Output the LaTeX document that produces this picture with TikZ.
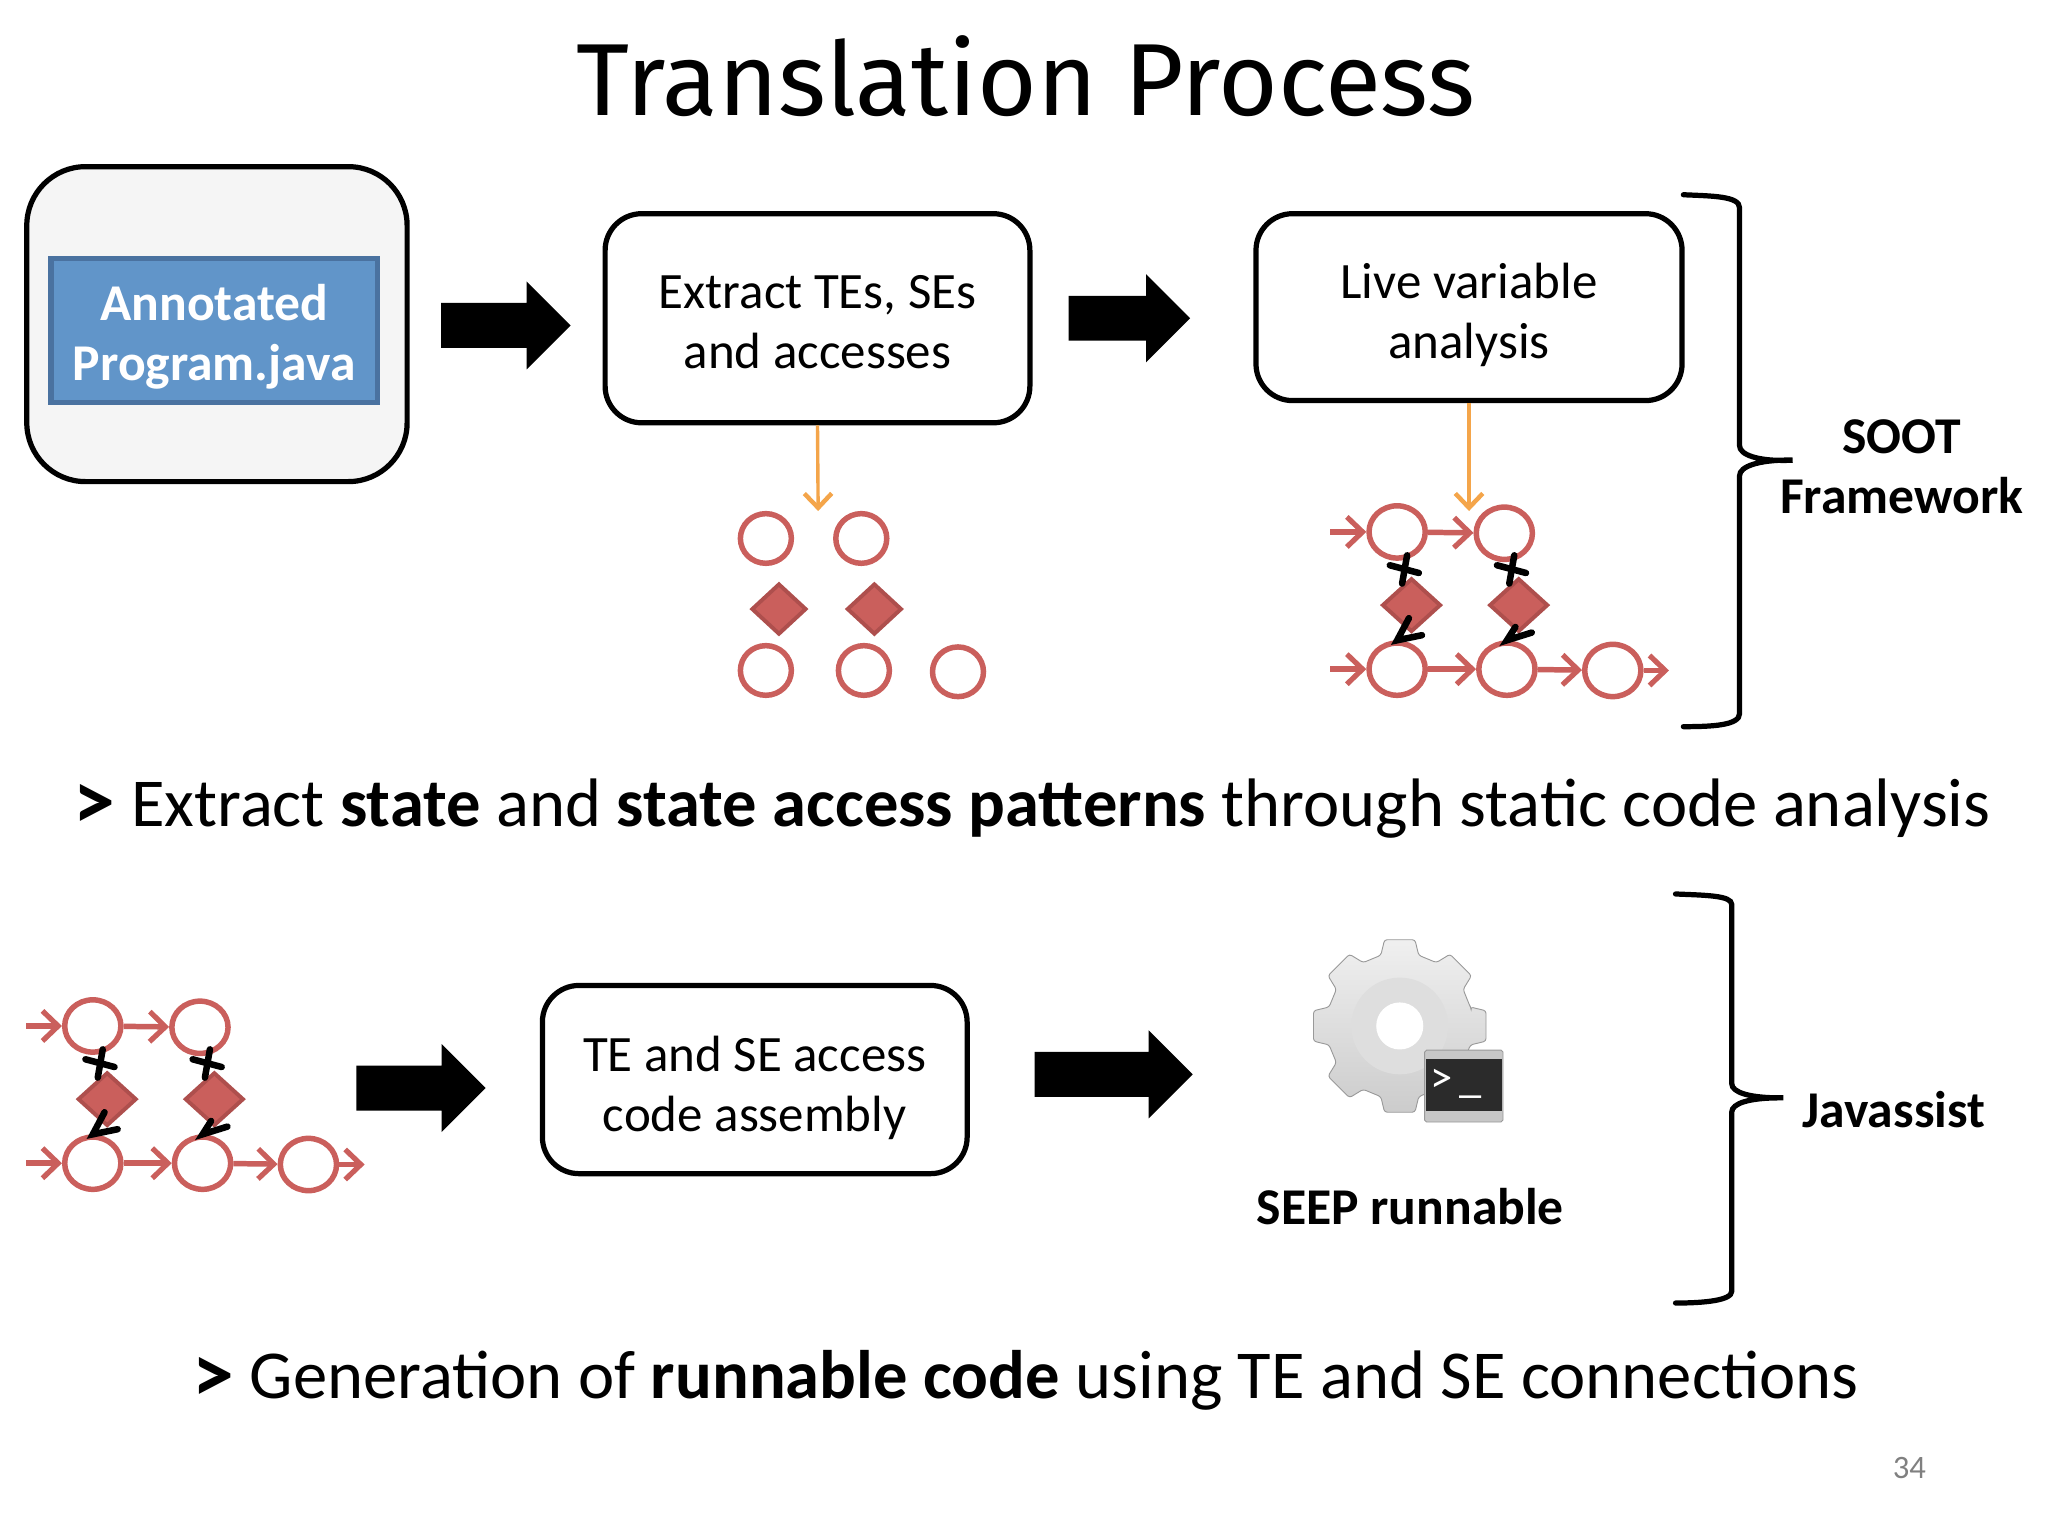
\documentclass[tikz,border=0pt]{standalone}
\usepackage{fontspec}
\setmainfont{Carlito}
\newfontfamily\titlefont{Fira Sans}
\usetikzlibrary{shapes.geometric,shapes.arrows,arrows.meta}
\definecolor{salmon}{HTML}{CA5F5C}
\definecolor{salmondk}{HTML}{AE4F4D}
\definecolor{orangeln}{HTML}{F4A54A}
\definecolor{bluefill}{HTML}{6195C9}
\definecolor{blueedge}{HTML}{4A72A0}
\newcommand{\dropline}{\rule{0pt}{37pt}}
\newcommand{\capmark}{\raisebox{-3pt}{\fontsize{64}{50}\selectfont\textbf{>}}}
\tikzset{
    boxnode/.style={draw,line width=4pt,rounded corners=28pt,align=center,inner sep=0pt,font=\fontsize{39}{46}\selectfont},
    blockarrow/.style={single arrow,fill=black,inner xsep=0pt,inner ysep=17pt,single arrow head extend=16.5pt},
    blabel/.style={align=center,font=\fontsize{39.5}{46}\selectfont\bfseries},
    oplabel/.style={anchor=base west,font=\fontsize{52.5}{54}\selectfont},
    ring/.style={ellipse,draw=salmon,line width=4.2pt,fill=white,minimum width=43pt,minimum height=40pt,inner sep=0pt},
    gem/.style={diamond,draw=salmondk,line width=3pt,fill=salmon,minimum width=45pt,minimum height=41pt,inner sep=0pt},
    flow/.style={draw=salmon,line width=4.2pt,-{Straight Barb[length=12pt,width=23pt,line width=4pt]}},
    blk/.style={black,line width=5pt,line cap=round},
    feed/.style={draw=orangeln,line width=2.6pt,-{Straight Barb[length=11pt,width=21pt,line width=3.4pt]}},
    brace/.style={draw=black,line width=4pt,line cap=round,rounded corners=6pt},
}
\begin{document}
\begin{tikzpicture}[x=1pt,y=-1pt]
\useasboundingbox (0,0) rectangle (1567,1175);
\node (title) at (785,58) {\titlefont\fontsize{78.4}{90}\selectfont Translation Process};

% top row
\node (src) [boxnode,rounded corners=45pt,fill=black!4,minimum width=291pt,minimum height=241pt] at (166,248) {};
\node (java) [draw=blueedge,line width=4pt,fill=bluefill,text=white,minimum width=250pt,minimum height=110pt,inner sep=0pt,align=center,font=\fontsize{39.5}{46}\selectfont\bfseries] at (164,253) {\dropline Annotated\\Program.java};
\node (extract) [boxnode,minimum width=325pt,minimum height=160pt] at (625.5,243.5) {\rule{0pt}{31pt}Extract TEs, SEs\\and accesses};
\node (live) [boxnode,minimum width=326pt,minimum height=143pt] at (1124,235) {\rule{0pt}{39pt}Live variable\\analysis};
\node (ar1) [blockarrow,minimum height=99pt] at (378.5,249) {};
\node (ar2) [blockarrow,minimum height=93pt] at (855.5,243.5) {};

% bare nodes under the extract box
\foreach \n/\x/\y in {a1/586/412, a2/659/412, a3/586/513, a4/661/513, a5/733/514}{
    \node (\n) [ring,minimum width=39pt,minimum height=38pt] at (\x,\y) {};
}
\foreach \n/\x in {b1/596, b2/669}{
    \node (\n) [gem,minimum width=42pt,minimum height=39pt] at (\x,466) {};
}
\coordinate (t1) at (626,391);
\coordinate (t2) at (1124,391);
\draw [feed] (extract.south) -- (t1);
\draw [feed] (live.south) -- (t2);

% the same graph twice
\foreach \g/\gx/\gy in {r/1069/407, l/71/785}{
    \begin{scope}[shift={(\gx,\gy)}]
        \foreach \i/\x/\y in {1/0/0, 2/82/1, 3/0/105, 4/84/105, 5/165/106}{
            \node (n\g\i) [ring] at (\x,\y) {};
        }
        \foreach \i/\x in {1/11, 2/93}{
            \node (d\g\i) [gem] at (\x,56) {};
        }
        \coordinate (e\g1) at (-51,0);
        \coordinate (e\g3) at (-51,105);
        \coordinate (e\g5) at (208,106);
        \draw [flow] (e\g1) -- (n\g1);
        \draw [flow] (e\g3) -- (n\g3);
        \draw [flow] (n\g1) -- (n\g2);
        \draw [flow] (n\g3) -- (n\g4);
        \draw [flow] (n\g4) -- (n\g5);
        \draw [flow] (n\g5) -- (e\g5);
        \foreach \i/\k/\x/\qx/\qy/\bx/\by in {1/3/0/9/66/19/79, 2/4/82/90.5/72.7/103/77}{
            \coordinate (u\g\i) at (\x+7.6,17.9);
            \coordinate (v\g\i) at (\x+3.8,39.5);
            \coordinate (pa\g\i) at (\x-5.6,25.5);
            \coordinate (pb\g\i) at (\x+16.6,31.4);
            \coordinate (q\g\i) at (\qx,\qy);
            \coordinate (h\g\i) at (\bx,\by);
            \draw [blk] (u\g\i) -- (v\g\i);
            \draw [blk] (pa\g\i) -- (pb\g\i);
            \draw [blk] (q\g\i) -- (n\g\k.north) -- (h\g\i);
        }
    \end{scope}
}

% gear icon
\begin{scope}[shift={(1071,785)}]
    \shade [top color=black!6,bottom color=black!20,draw=black!40,line width=.7pt,rounded corners=2pt]
        (-14:56) \foreach \a in {0,45,...,315}{
            -- (\a-15:56) -- (\a-10:67) -- (\a+10:67) -- (\a+15:56)
        } -- cycle;
    \node (hub) [circle,fill=black!13,minimum size=74pt,inner sep=0pt] at (0,0) {};
    \node (hole) [circle,fill=white,minimum size=36pt,inner sep=0pt] at (0,0) {};
\end{scope}
\node (term) [fill=black!22,draw=black!40,line width=.7pt,rounded corners=1.5pt,minimum width=60pt,minimum height=55pt,inner sep=0pt] at (1120,831) {};
\node (screen) [fill=black!83,minimum width=58pt,minimum height=40pt,inner sep=0pt] at (1120,830) {};
\node (prompt) [text=white,font=\fontsize{34}{34}\selectfont] at (1114,829) {>\,\_};

\node (seep) [blabel] at (1079,923) {SEEP runnable};

% braces
\coordinate (sootb) at (1375,352);
\coordinate (javb) at (1368,840);
\draw [brace] (1288,149) .. controls (1310,150) and (1331,150) .. (1331,165) -- (1331,335) .. controls (1331,348) and (1345,353) .. (sootb) .. controls (1345,352) and (1331,357) .. (1331,370) -- (1331,540) .. controls (1331,555) and (1310,556) .. (1288,556);
\draw [brace] (1282,684) .. controls (1304,685) and (1325,685) .. (1325,698) -- (1325,823) .. controls (1325,836) and (1339,840) .. (javb) .. controls (1339,840) and (1325,844) .. (1325,857) -- (1325,982) .. controls (1325,995) and (1304,997) .. (1282,997);
\node (soot) [blabel] at (1455,357) {SOOT\\Framework};
\node (jav) [blabel] at (1449,849) {Javassist};

% bottom row
\node (ar3) [blockarrow,minimum height=99pt] at (313.5,832.5) {};
\node (ar4) [blockarrow,minimum height=121pt] at (843.5,822) {};
\node (assem) [boxnode,minimum width=325pt,minimum height=144pt] at (577.5,826) {\rule{0pt}{40pt}TE and SE access\\code assembly};

% captions
\node (cap1) [oplabel] at (53,632) {\capmark{} Extract \textbf{state} and \textbf{state access patterns} through static code analysis};
\node (cap2) [oplabel] at (144,1070) {\capmark{} Generation of \textbf{runnable code} using TE and SE connections};
\node (num) [text=black!50,font=\fontsize{25}{25}\selectfont] at (1461,1123) {34};
\end{tikzpicture}
\end{document}
